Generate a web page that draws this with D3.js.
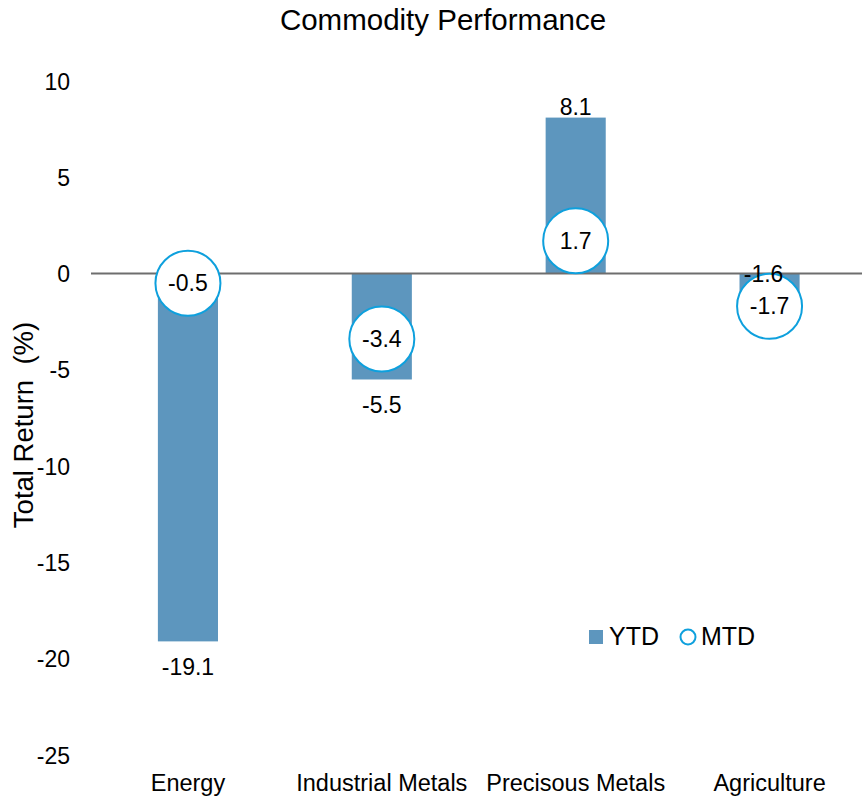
<!DOCTYPE html>
<html>
<head>
<meta charset="utf-8">
<script src="https://cdn.jsdelivr.net/npm/d3@7"></script>
<style>
  html, body { margin: 0; padding: 0; background: #fff; }
  svg text { font-family: "Liberation Sans", Arial, sans-serif; fill: #000; }
</style>
</head>
<body>
<svg id="chart" width="862" height="798"></svg>
<script>
// Commodity total returns (%)
const categories = ["Energy", "Industrial Metals", "Precisous Metals", "Agriculture"];
const ytdValues = [-19.1, -5.5, 8.1, -1.6];
const mtdValues = [-0.5, -3.4, 1.7, -1.7];
const yTicks = [10, 5, 0, -5, -10, -15, -20, -25];

const barColor = "#5d96be";
const circleColor = "#0ea0dd";
const circleR = 32.5;
const fmt1 = v => v.toFixed(1);          // plain hyphen-minus
const fmt0 = v => String(v);

const svg = d3.select("#chart");

const x = d3.scaleBand()
  .domain(categories)
  .range([91, 866.5])
  .paddingInner(0.69)
  .paddingOuter(0.345);

const y = d3.scaleLinear().domain([-25, 10]).range([755, 81]);

// Title
svg.append("text")
  .attr("x", 443).attr("y", 30)
  .attr("text-anchor", "middle")
  .style("font-size", "29.5px")
  .text("Commodity Performance");

// Y axis (labels only)
const yAxis = svg.append("g")
  .attr("transform", "translate(70,0)")
  .call(d3.axisLeft(y).tickValues(yTicks).tickSize(0).tickPadding(0).tickFormat(fmt0));
yAxis.select(".domain").remove();
yAxis.selectAll("text")
  .style("font-size", "23px")
  .style("font-family", "'Liberation Sans', Arial, sans-serif")
  .attr("dy", "0.35em");

// Y axis title
svg.append("text")
  .attr("transform", "translate(33,425) rotate(-90)")
  .attr("text-anchor", "middle")
  .style("font-size", "27.5px")
  .style("white-space", "pre")
  .attr("xml:space", "preserve")
  .text("Total Return  (%)");

// Category axis
const xAxis = svg.append("g")
  .attr("transform", "translate(0,770)")
  .call(d3.axisBottom(x).tickSize(0).tickPadding(0));
xAxis.select(".domain").remove();
xAxis.selectAll("text")
  .style("font-size", "23.5px")
  .style("font-family", "'Liberation Sans', Arial, sans-serif")
  .attr("dy", "21px");

const data = categories.map((c, i) => ({ cat: c, ytd: ytdValues[i], mtd: mtdValues[i] }));

// YTD bars
svg.append("g").selectAll("rect")
  .data(data)
  .join("rect")
  .attr("x", d => x(d.cat))
  .attr("width", x.bandwidth())
  .attr("y", d => y(Math.max(0, d.ytd)))
  .attr("height", d => Math.abs(y(d.ytd) - y(0)))
  .attr("fill", barColor);

// Zero line
svg.append("line")
  .attr("x1", 91).attr("x2", 862)
  .attr("y1", y(0)).attr("y2", y(0))
  .attr("stroke", "#6e6e6e")
  .attr("stroke-width", 2);

// MTD markers
const cx = d => x(d.cat) + x.bandwidth() / 2;
svg.append("g").selectAll("circle")
  .data(data)
  .join("circle")
  .attr("cx", cx)
  .attr("cy", d => y(d.mtd))
  .attr("r", circleR)
  .attr("fill", "#fff")
  .attr("stroke", circleColor)
  .attr("stroke-width", 2);

svg.append("g").selectAll("text")
  .data(data)
  .join("text")
  .attr("x", cx)
  .attr("y", d => y(d.mtd))
  .attr("dy", "0.35em")
  .attr("text-anchor", "middle")
  .style("font-size", "23px")
  .text(d => fmt1(d.mtd));

// YTD value labels: outside the bar end, moved onto the zero line when the marker is in the way
function ytdLabelY(d) {
  if (d.ytd >= 0) return y(d.ytd) - 3;
  const below = y(d.ytd) + 34;
  const top = below - 17;
  const circleBottom = y(d.mtd) + circleR;
  if (top < circleBottom && below > y(d.mtd) - circleR) return y(0) + 8;
  return below;
}
svg.append("g").selectAll("text")
  .data(data)
  .join("text")
  .attr("x", d => cx(d) - (d.ytd < 0 && ytdLabelY(d) < y(d.ytd) ? 6 : 0))
  .attr("y", ytdLabelY)
  .attr("text-anchor", "middle")
  .style("font-size", "23px")
  .text(d => fmt1(d.ytd));

// Legend
const legend = svg.append("g");
legend.append("rect")
  .attr("x", 589).attr("y", 630)
  .attr("width", 14).attr("height", 14)
  .attr("fill", barColor);
legend.append("text")
  .attr("x", 609).attr("y", 645)
  .style("font-size", "25px")
  .text("YTD");
legend.append("circle")
  .attr("cx", 688).attr("cy", 637)
  .attr("r", 7.5)
  .attr("fill", "#fff")
  .attr("stroke", circleColor)
  .attr("stroke-width", 2);
legend.append("text")
  .attr("x", 701).attr("y", 645)
  .style("font-size", "25px")
  .text("MTD");
</script>
</body>
</html>
